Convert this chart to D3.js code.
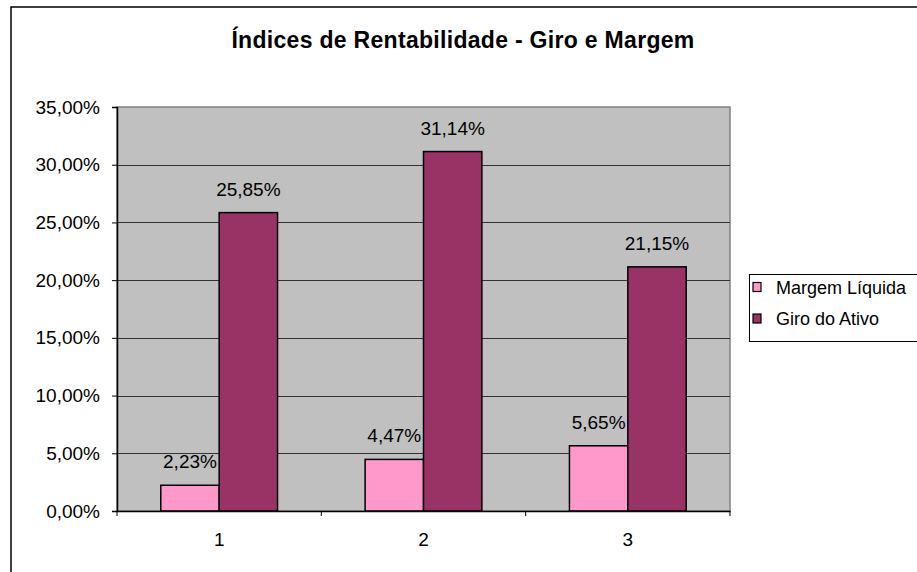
<!DOCTYPE html>
<html>
<head>
<meta charset="utf-8">
<script src="https://cdn.jsdelivr.net/npm/d3@7"></script>
<style>
  body { margin: 0; background: #fff; }
  text { font-family: Arial, "Liberation Sans", sans-serif; fill: #000; }
</style>
</head>
<body>
<div id="chart"></div>
<script>
const categories = ['1', '2', '3']
const seriesNames = ['Margem Líquida', 'Giro do Ativo']
const margemLiquida = [2.23, 4.47, 5.65]
const giroDoAtivo = [25.85, 31.14, 21.15]
const yTicks = [0, 5, 10, 15, 20, 25, 30, 35]
const colors = ['#FF99CC', '#993366']

const width = 917
const height = 572
const plot = {left: 117, top: 107, right: 730, bottom: 511}

const fmt = v => v.toFixed(2).replace('.', ',') + '%'

const svg = d3.select('#chart')
  .append('svg')
  .attr('width', width)
  .attr('height', height)

// moldura do gráfico
svg.append('rect')
  .attr('x', 11).attr('y', 7)
  .attr('width', 1000).attr('height', 700)
  .attr('fill', '#fff')
  .attr('stroke', '#000')
  .attr('stroke-width', 1.5)

svg.append('text')
  .attr('x', 463).attr('y', 48)
  .attr('text-anchor', 'middle')
  .style('font-size', '23px')
  .style('font-weight', 'bold')
  .style('letter-spacing', '0.3px')
  .text('Índices de Rentabilidade - Giro e Margem')

const x0 = d3.scaleBand()
  .domain(categories)
  .range([plot.left, plot.right])

// gap width 150% como no Excel
const x1 = d3.scaleBand()
  .domain(d3.range(seriesNames.length))
  .range([0, x0.bandwidth()])
  .paddingOuter(0.75)
  .paddingInner(0)

const y = d3.scaleLinear()
  .domain([0, 35])
  .range([plot.bottom, plot.top])

svg.append('rect')
  .attr('x', plot.left).attr('y', plot.top)
  .attr('width', plot.right - plot.left)
  .attr('height', plot.bottom - plot.top)
  .attr('fill', '#C0C0C0')
  .attr('stroke', '#808080')
  .attr('stroke-width', 1.5)

// linhas de grade
svg.append('g')
  .selectAll('line')
  .data(yTicks.filter(t => t > 0 && t < 35))
  .enter()
  .append('line')
  .attr('x1', plot.left).attr('x2', plot.right)
  .attr('y1', d => Math.round(y(d)) + 0.5)
  .attr('y2', d => Math.round(y(d)) + 0.5)
  .attr('stroke', '#333')
  .attr('stroke-width', 1)

const data = categories.map((c, i) => ({cat: c, values: [margemLiquida[i], giroDoAtivo[i]]}))

const groups = svg.append('g')
  .selectAll('g')
  .data(data)
  .enter()
  .append('g')
  .attr('transform', d => `translate(${x0(d.cat)},0)`)

groups.selectAll('rect')
  .data(d => d.values)
  .enter()
  .append('rect')
  .attr('x', (d, i) => x1(i))
  .attr('y', d => y(d))
  .attr('width', x1.bandwidth())
  .attr('height', d => y(0) - y(d))
  .attr('fill', (d, i) => colors[i])
  .attr('stroke', '#000')
  .attr('stroke-width', 1.5)

groups.selectAll('text')
  .data(d => d.values)
  .enter()
  .append('text')
  .attr('x', (d, i) => x1(i) + x1.bandwidth() / 2)
  .attr('y', d => y(d) - 17)
  .attr('text-anchor', 'middle')
  .style('font-size', '19px')
  .text(d => fmt(d))

// eixo Y
const yAxis = svg.append('g')
  .attr('transform', `translate(${plot.left},0)`)
  .call(d3.axisLeft(y).tickValues(yTicks).tickSize(5).tickPadding(12)
    .tickFormat(d => fmt(d)))
yAxis.select('.domain').attr('stroke', '#000').attr('stroke-width', 1.5)
yAxis.selectAll('.tick line').attr('stroke', '#000')
yAxis.selectAll('text')
  .style('font-size', '19px')
  .style('font-family', 'Arial, "Liberation Sans", sans-serif')
  .attr('fill', '#000')

// eixo X
const xAxis = svg.append('g')
  .attr('transform', `translate(0,${plot.bottom})`)
  .call(d3.axisBottom(x0).tickSize(0).tickPadding(22))
xAxis.select('.domain').attr('stroke', '#000').attr('stroke-width', 1.5)
xAxis.selectAll('text')
  .style('font-size', '19px')
  .style('font-family', 'Arial, "Liberation Sans", sans-serif')
  .attr('fill', '#000')

// marcas entre categorias
svg.append('g')
  .selectAll('line')
  .data(categories.concat(['end']))
  .enter()
  .append('line')
  .attr('x1', (d, i) => i < categories.length ? x0(d) : plot.right)
  .attr('x2', (d, i) => i < categories.length ? x0(d) : plot.right)
  .attr('y1', plot.bottom).attr('y2', plot.bottom + 5)
  .attr('stroke', '#000')

// legenda
const legend = svg.append('g')
legend.append('rect')
  .attr('x', 749.5).attr('y', 274.5)
  .attr('width', 300).attr('height', 67)
  .attr('fill', '#fff')
  .attr('stroke', '#000')

const items = legend.selectAll('g')
  .data(seriesNames)
  .enter()
  .append('g')
  .attr('transform', (d, i) => `translate(0,${287 + i * 31.5})`)

items.append('rect')
  .attr('x', 753).attr('y', -4.5)
  .attr('width', 8).attr('height', 9)
  .attr('fill', (d, i) => colors[i])
  .attr('stroke', '#000')
  .attr('stroke-width', 1.2)

items.append('text')
  .attr('x', 776).attr('y', 6.5)
  .style('font-size', '18px')
  .text(d => d)
</script>
</body>
</html>
